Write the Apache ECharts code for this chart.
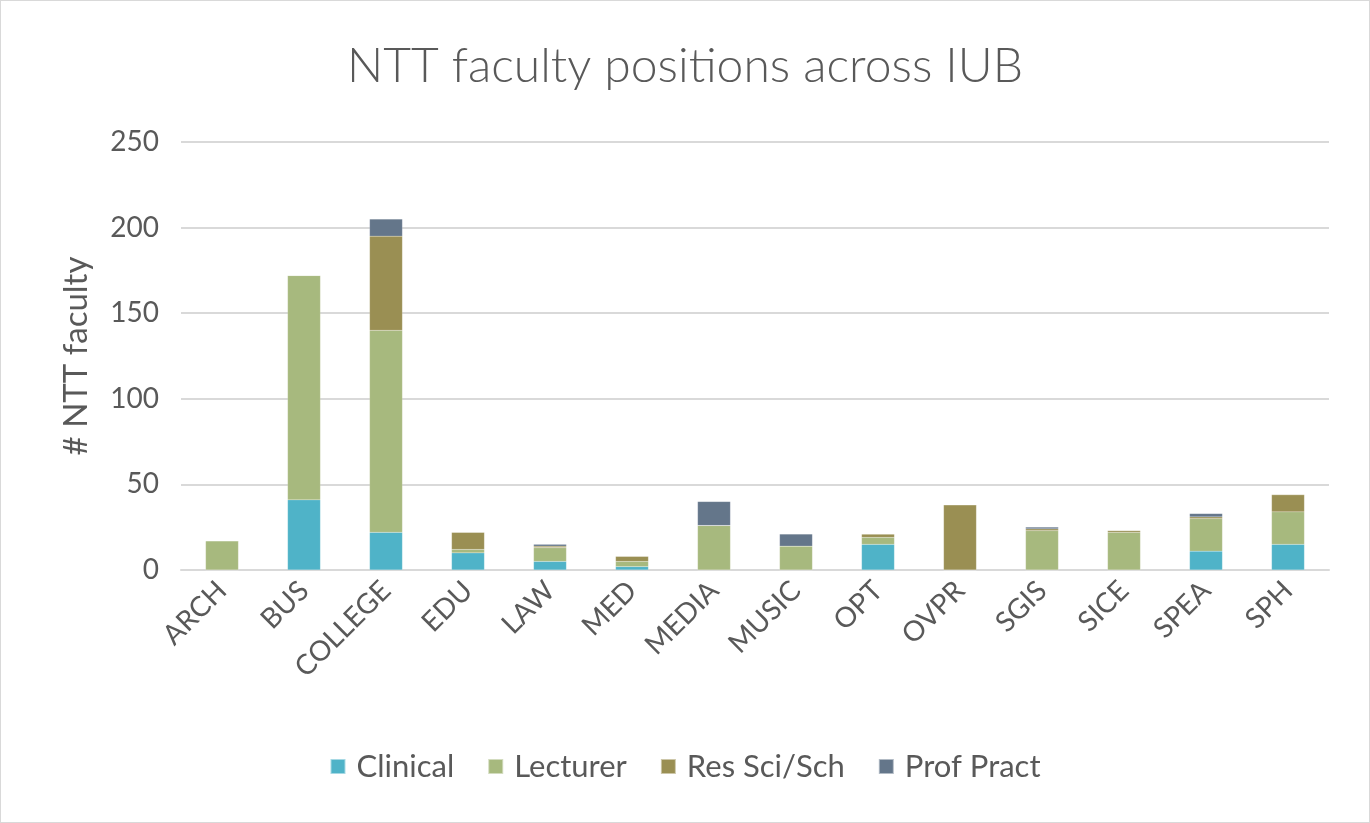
<!DOCTYPE html>
<html>
<head>
<meta charset="utf-8">
<script src="https://cdn.jsdelivr.net/npm/echarts@6/dist/echarts.min.js"></script>
<style>
html,body{margin:0;padding:0;background:#fff;}
#chart{width:1370px;height:823px;box-sizing:border-box;border:1px solid #d9d9d9;}
</style>
</head>
<body>
<div id="chart"></div>
<script>
// data
var schools = ['ARCH','BUS','COLLEGE','EDU','LAW','MED','MEDIA','MUSIC','OPT','OVPR','SGIS','SICE','SPEA','SPH'];
var clinical = [0, 41, 22, 10, 5, 2, 0, 0, 15, 0, 0, 0, 11, 15];
var lecturer = [17, 131, 118, 2, 8, 3, 26, 14, 4, 0, 23, 22, 19, 19];
var resSci   = [0, 0, 55, 10, 1, 3, 0, 0, 2, 38, 1, 1, 1, 10];
var profPract= [0, 0, 10, 0, 1, 0, 14, 7, 0, 0, 1, 0, 2, 0];
var yTicks = [0, 50, 100, 150, 200, 250];

var font = 'Lato';
var chart = echarts.init(document.getElementById('chart'));

function mk(name, data, color){
    return {
        name: name, type: 'bar', stack: 'all', data: data, barWidth: '40%',
        itemStyle: {color: color, borderColor: 'rgba(255,255,255,0.5)', borderWidth: 0.3}
    };
}

chart.setOption({
    animation: false,
    textStyle: {fontFamily: font},
    title: {
        text: 'NTT faculty positions across IUB', left: 'center', top: 37,
        textStyle: {fontSize: 48, fontWeight: 300, color: '#595959', fontFamily: font}
    },
    legend: {
        bottom: 35, left: 'center', itemWidth: 15, itemHeight: 15, itemGap: 33,
        icon: 'rect',
        textStyle: {fontSize: 31, color: '#595959', fontFamily: font, padding: [0,0,0,6]}
    },
    grid: {left: 180, right: 40, top: 141, bottom: 252},
    xAxis: {
        type: 'category', data: schools,
        axisLine: {lineStyle: {color: '#d9d9d9', width: 2}},
        axisTick: {show: false},
        axisLabel: {rotate: 45, fontSize: 28, color: '#595959', margin: 16}
    },
    yAxis: {
        type: 'value', min: yTicks[0], max: yTicks[yTicks.length-1], interval: 50,
        name: '# NTT faculty', nameLocation: 'middle', nameGap: 88,
        nameTextStyle: {fontSize: 33, color: '#595959'},
        axisLine: {show: false}, axisTick: {show: false},
        axisLabel: {fontSize: 28, color: '#595959', margin: 22},
        splitLine: {lineStyle: {color: '#d9d9d9', width: 2}}
    },
    series: [
        mk('Clinical', clinical, '#4fb3c8'),
        mk('Lecturer', lecturer, '#a7b97e'),
        mk('Res Sci/Sch', resSci, '#9a8f53'),
        mk('Prof Pract', profPract, '#64768a')
    ]
});
</script>
</body>
</html>
